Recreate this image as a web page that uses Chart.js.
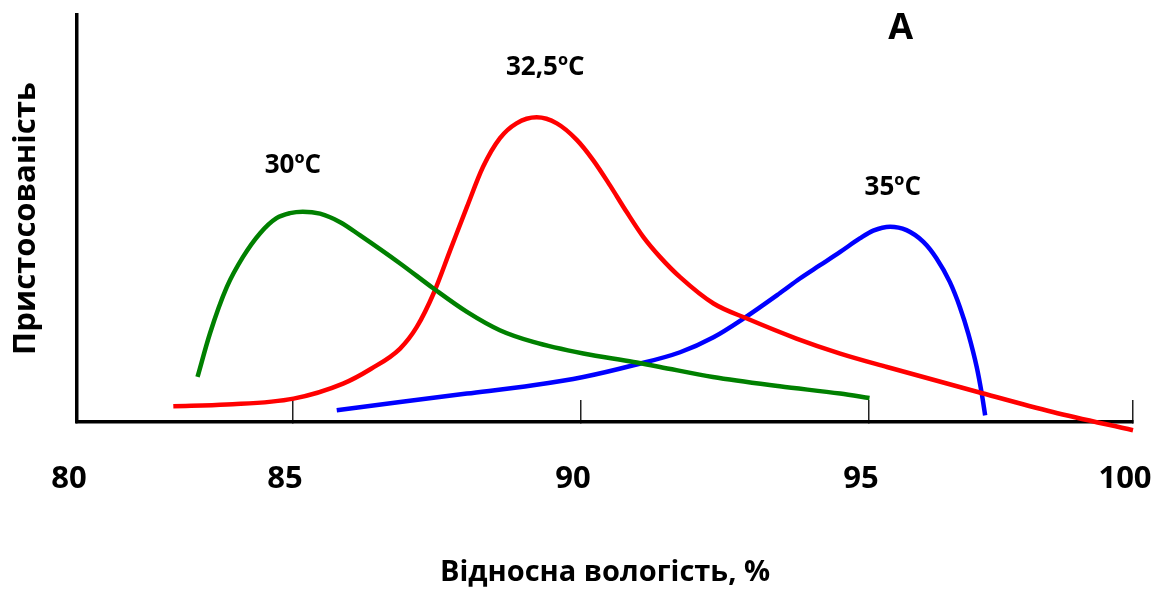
<!DOCTYPE html>
<html lang="uk">
<head>
<meta charset="utf-8">
<title>Пристосованість і відносна вологість</title>
<script src="https://cdn.jsdelivr.net/npm/chart.js@4.4.1/dist/chart.umd.min.js"></script>
<style>
  html, body { margin: 0; padding: 0; background: #fff; }
  #wrap { width: 1168px; height: 592px; }
</style>
</head>
<body>
<div id="wrap"><canvas id="chart" width="1168" height="592"></canvas></div>
<script>
// Axis tick values (relative humidity, %)
const xTicks = [80, 85, 90, 95, 100];

// 30ºC curve
const humidity30 = [82.79, 83.08, 83.47, 83.84, 84.24, 84.62, 84.93, 85.17, 85.47, 85.82, 86.16, 86.86, 87.44, 88.02, 88.59, 89.17, 90.04, 90.91, 91.37, 92.29, 93.45, 94.50, 95.01];
const fitness30  = [11.06, 21.81, 33.19, 40.50, 46.40, 50.09, 51.32, 51.68, 51.19, 49.10, 45.91, 38.95, 32.80, 27.05, 22.55, 19.67, 16.82, 14.75, 13.52, 11.06, 8.78, 6.98, 5.90];

// 32,5ºC curve
const humidity325 = [82.23, 83.47, 85.01, 85.87, 86.35, 86.86, 87.15, 87.44, 87.73, 88.02, 88.30, 88.59, 88.88, 89.23, 89.58, 89.93, 90.21, 90.50, 90.79, 91.08, 91.37, 91.72, 92.30, 92.88, 93.74, 94.50, 95.34, 97.06, 98.48, 100.0];
const fitness325  = [3.86, 4.28, 5.75, 9.44, 13.03, 18.05, 23.36, 31.57, 42.22, 52.86, 62.70, 69.68, 73.37, 74.85, 73.37, 69.26, 64.35, 58.20, 51.64, 45.49, 40.57, 35.58, 29.11, 25.42, 20.51, 16.82, 13.52, 7.38, 2.46, -2.04];

// 35ºC curve
const humidity35 = [85.76, 86.86, 88.02, 89.17, 90.04, 90.91, 91.72, 92.30, 92.82, 93.45, 93.80, 94.15, 94.50, 94.84, 95.08, 95.40, 95.71, 96.03, 96.28, 96.53, 96.72, 96.88, 97.04, 97.13, 97.20];
const fitness35  = [2.88, 4.92, 6.98, 9.02, 11.06, 13.94, 17.14, 20.83, 25.42, 31.64, 35.26, 38.53, 41.80, 45.10, 47.01, 48.00, 47.14, 44.26, 40.18, 34.42, 28.28, 21.74, 13.52, 7.38, 1.65];

// Curve captions and panel letter
const captions = ['30ºC', '32,5ºC', '35ºC'];
const panelLetter = 'A';

// Where each tick sits along the axis (0 = left end, 1 = right end)
const xTickSpacing = [0, 0.2045, 0.4773, 0.75, 1];

// Caption anchors in data units
const captionAnchors = [
  { x: 85.0,  y: 63.1, size: 26 },
  { x: 89.38, y: 87.0, size: 26 },
  { x: 95.45, y: 57.5, size: 26 },
];
const letterAnchor = { x: 95.6, y: 96.6, size: 36 };

const FONT = '"Open Sans", "DejaVu Sans", sans-serif';

// Linear axis whose ticks are spread with the spacing given above
class SpacedLinearScale extends Chart.LinearScale {
  static id = 'spacedLinear';
  static defaults = Chart.LinearScale.defaults;

  toDecimal(v) {
    const k = xTicks, f = xTickSpacing;
    let i = 1;
    while (i < k.length - 1 && v > k[i]) i++;
    return f[i - 1] + (v - k[i - 1]) / (k[i] - k[i - 1]) * (f[i] - f[i - 1]);
  }
  fromDecimal(d) {
    const k = xTicks, f = xTickSpacing;
    let i = 1;
    while (i < f.length - 1 && d > f[i]) i++;
    return k[i - 1] + (d - f[i - 1]) / (f[i] - f[i - 1]) * (k[i] - k[i - 1]);
  }
  getPixelForValue(value) {
    if (value === null || value === undefined || isNaN(value)) return NaN;
    return this.getPixelForDecimal(this.toDecimal(value));
  }
  getValueForPixel(pixel) {
    return this.fromDecimal(this.getDecimalForPixel(pixel));
  }
}
Chart.register(SpacedLinearScale);

const toPoints = (xs, ys) => xs.map((x, i) => ({ x, y: ys[i] }));

const curve = (label, xs, ys, color) => ({
  label,
  data: toPoints(xs, ys),
  borderColor: color,
  backgroundColor: color,
  borderWidth: 4.5,
  pointRadius: 0,
  pointHoverRadius: 0,
  fill: false,
  cubicInterpolationMode: 'monotone',
  clip: false,
});

const captionPlugin = {
  id: 'captions',
  afterDatasetsDraw(chart) {
    const { ctx, scales: { x, y } } = chart;
    ctx.save();
    ctx.fillStyle = '#000';
    ctx.textAlign = 'center';
    ctx.textBaseline = 'middle';
    captions.forEach((text, i) => {
      const a = captionAnchors[i];
      ctx.font = `bold ${a.size}px ${FONT}`;
      ctx.fillText(text, x.getPixelForValue(a.x), y.getPixelForValue(a.y));
    });
    ctx.font = `bold ${letterAnchor.size}px ${FONT}`;
    ctx.fillText(panelLetter, x.getPixelForValue(letterAnchor.x), y.getPixelForValue(letterAnchor.y));
    ctx.restore();
  }
};

new Chart(document.getElementById('chart'), {
  type: 'line',
  data: {
    datasets: [
      curve(captions[0], humidity30, fitness30, '#008000'),
      curve(captions[1], humidity325, fitness325, '#ff0000'),
      curve(captions[2], humidity35, fitness35, '#0000ff'),
    ]
  },
  options: {
    responsive: false,
    animation: false,
    events: [],
    layout: { padding: { top: 15, right: 35, bottom: 0, left: 0 } },
    plugins: {
      legend: { display: false },
      tooltip: { enabled: false },
    },
    scales: {
      x: {
        type: 'spacedLinear',
        min: 80,
        max: 100,
        afterFit: (s) => { s.height = 170; },
        border: { display: true, color: '#000', width: 3.5 },
        grid: {
          display: true,
          drawOnChartArea: false,
          drawTicks: true,
          tickLength: -22,
          tickColor: '#222',
          tickWidth: 1.5,
          lineWidth: 1.5,
          color: '#222',
        },
        ticks: {
          stepSize: 5,
          autoSkip: false,
          maxRotation: 0,
          color: '#000',
          padding: 4,
          labelOffset: -8,
          font: { family: FONT, size: 31, weight: 'bold', lineHeight: 4.84 },
        },
        title: {
          display: true,
          text: 'Відносна вологість, %',
          color: '#000',
          font: { family: FONT, size: 29, weight: 'bold' },
          padding: { top: 0, bottom: 2 },
        },
      },
      y: {
        min: 0,
        max: 100,
        afterFit: (s) => { s.width = 77; },
        border: { display: true, color: '#000', width: 3.5 },
        grid: { display: false, drawTicks: false },
        ticks: { display: false },
        title: {
          display: true,
          text: 'Пристосованість',
          color: '#000',
          font: { family: FONT, size: 31, weight: 'bold' },
          padding: { top: 8, bottom: 0 },
        },
      },
    },
  },
  plugins: [captionPlugin],
});
</script>
</body>
</html>
